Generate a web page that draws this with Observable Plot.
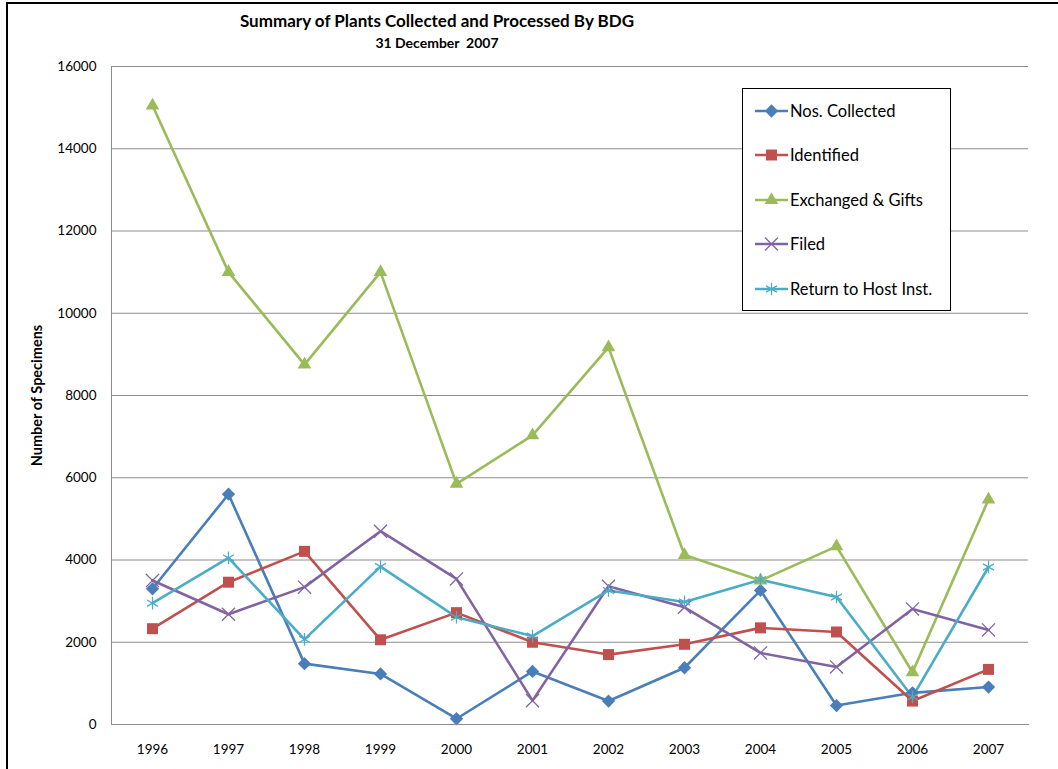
<!DOCTYPE html>
<html>
<head>
<meta charset="utf-8">
<script src="https://cdn.jsdelivr.net/npm/d3@7"></script>
<script src="https://cdn.jsdelivr.net/npm/@observablehq/plot@0.6"></script>
<style>
  html, body { margin: 0; padding: 0; background: #fff; }
  body { width: 1058px; height: 769px; position: relative; overflow: hidden; font-family: Lato, "Open Sans", sans-serif; }
  #frame { position: absolute; left: 6px; top: 2px; width: 1100px; height: 800px; border: 2px solid #000; box-sizing: border-box; }
  #title { position: absolute; left: 0; width: 874px; top: 10px; text-align: center; font-weight: bold; font-size: 17px; color: #000; }
  #subtitle { position: absolute; left: 0; width: 874px; top: 34px; text-align: center; font-weight: bold; font-size: 14px; white-space: pre; color: #000; }
  #chart { position: absolute; left: 0; top: 0; }
  #legend { position: absolute; left: 742px; top: 88px; width: 209px; height: 223px; border: 1px solid #000; box-sizing: border-box; background: #fff; }
  .item { position: absolute; left: 12px; height: 20px; display: flex; align-items: center; font-size: 16.5px; color: #000; white-space: nowrap; }
  .item svg { margin-right: 2px; }
</style>
</head>
<body>
<div id="frame"></div>
<div id="chart"></div>
<div id="title">Summary of Plants Collected and Processed By BDG</div>
<div id="subtitle">31 December  2007</div>
<div id="legend"></div>
<script>
const years = ["1996","1997","1998","1999","2000","2001","2002","2003","2004","2005","2006","2007"];
const collected  = [3300, 5600, 1480, 1230, 140, 1290, 570, 1380, 3260, 460, 770, 910];
const identified = [2330, 3460, 4210, 2060, 2720, 2000, 1700, 1950, 2350, 2250, 570, 1340];
const exchanged  = [15050, 11000, 8750, 11000, 5850, 7030, 9170, 4120, 3500, 4330, 1270, 5470];
const filed      = [3500, 2680, 3340, 4700, 3540, 580, 3360, 2850, 1740, 1400, 2810, 2300];
const returned   = [2950, 4050, 2070, 3840, 2610, 2150, 3260, 2980, 3520, 3100, 670, 3830];
const seriesNames = ["Nos. Collected", "Identified", "Exchanged & Gifts", "Filed", "Return to Host Inst."];
const seriesValues = [collected, identified, exchanged, filed, returned];
const colors = ["#4A7EBB", "#C0504D", "#9BBB59", "#8064A2", "#4BACC6"];
const symbols = ["diamond2", "square2", "triangle2", "times", "asterisk"];
const filledSym = [true, true, true, false, false];
const symSize = [6, 7, 6.5, 6, 6];
const yTicks = [0, 2000, 4000, 6000, 8000, 10000, 12000, 14000, 16000];

const data = [];
seriesNames.forEach((s, i) => years.forEach((y, j) => data.push({series: s, year: y, value: seriesValues[i][j]})));

const marks = [
  Plot.gridY(yTicks, {stroke: "#8c8c8c", strokeOpacity: 1, strokeWidth: 1}),
  Plot.axisY({ticks: yTicks, tickSize: 0, tickPadding: 15, label: null, fontSize: 13.5, tickFormat: d => String(d)}),
  Plot.axisX({tickSize: 0, tickPadding: 20, label: null, fontSize: 13.5}),
  Plot.line(data, {x: "year", y: "value", z: "series", stroke: "series", strokeWidth: 2.6})
];
seriesNames.forEach((s, i) => {
  const sub = data.filter(d => d.series === s);
  if (filledSym[i]) {
    marks.push(Plot.dot(sub, {x: "year", y: "value", symbol: () => symbols[i], fill: colors[i], stroke: "none", r: symSize[i]}));
  } else {
    marks.push(Plot.dot(sub, {x: "year", y: "value", symbol: () => symbols[i], stroke: colors[i], strokeWidth: 1.3, fill: "none", r: symSize[i]}));
  }
});

const chart = Plot.plot({
  width: 1058,
  height: 769,
  marginLeft: 111,
  marginRight: 30,
  marginTop: 66,
  marginBottom: 45,
  style: {fontFamily: "Lato, 'Open Sans', sans-serif", fontSize: "13.5px", color: "#000", background: "transparent"},
  x: {type: "point", domain: years, padding: 0.5},
  y: {domain: [0, 16000]},
  color: {domain: seriesNames, range: colors},
  symbol: {domain: symbols, range: symbols},
  marks: [
    ...marks,
    Plot.frame({anchor: "left", stroke: "#8c8c8c"}),
    Plot.frame({anchor: "bottom", stroke: "#8c8c8c"}),
    Plot.text(["Number of Specimens"], {frameAnchor: "left", textAnchor: "middle", dx: -74, rotate: -90, fontWeight: "bold", fontSize: 14.5, fill: "#000"})
  ]
});
document.getElementById("chart").appendChild(chart);

// legend
const legend = document.getElementById("legend");
const legendY = [12, 56, 101, 145, 190];
const symMap = {diamond2: d3.symbolDiamond2, square2: d3.symbolSquare2, triangle2: d3.symbolTriangle2, times: d3.symbolTimes, asterisk: d3.symbolAsterisk};
seriesNames.forEach((s, i) => {
  const div = document.createElement("div");
  div.className = "item";
  div.style.top = legendY[i] + "px";
  const svg = d3.create("svg").attr("width", 33).attr("height", 20);
  svg.append("line").attr("x1", 0).attr("x2", 33).attr("y1", 10).attr("y2", 10).attr("stroke", colors[i]).attr("stroke-width", 2.6);
  const sz = symSize[i];
  const p = svg.append("path").attr("transform", "translate(16.5,10)").attr("d", d3.symbol(symMap[symbols[i]], Math.PI * sz * sz)());
  if (filledSym[i]) p.attr("fill", colors[i]); else p.attr("fill", "none").attr("stroke", colors[i]).attr("stroke-width", 1.3);
  div.appendChild(svg.node());
  const t = document.createElement("span");
  t.textContent = s;
  div.appendChild(t);
  legend.appendChild(div);
});
</script>
</body>
</html>
